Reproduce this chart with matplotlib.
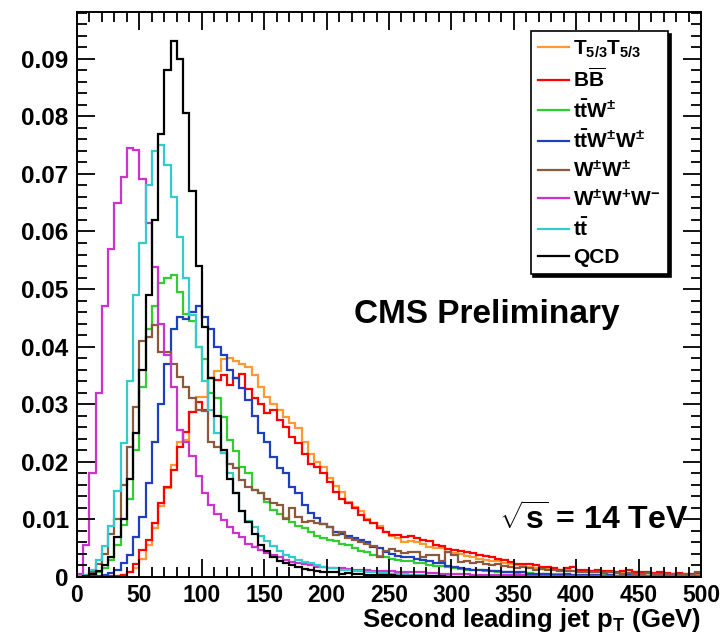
import numpy as np
import matplotlib
matplotlib.use("Agg")
import matplotlib.pyplot as plt
from matplotlib.lines import Line2D
from matplotlib.ticker import MultipleLocator

plt.rcParams['font.family'] = ['Liberation Sans', 'DejaVu Sans']
plt.rcParams['font.weight'] = 'bold'
plt.rcParams['mathtext.fontset'] = 'custom'
plt.rcParams['mathtext.rm'] = 'Liberation Sans:bold'
plt.rcParams['mathtext.it'] = 'Liberation Sans:bold'
plt.rcParams['mathtext.bf'] = 'Liberation Sans:bold'

# 5 GeV bins, 0-500 GeV
edges = np.arange(0, 505, 5)

t53 = [0, 0, 0, 0, 0, 0, 0.0001, 0.0003, 0.0008, 0.0016,
       0.0032, 0.0055, 0.0085, 0.0124, 0.0155, 0.0195, 0.0235, 0.0238, 0.0286, 0.0313,
       0.0313, 0.0345, 0.0358, 0.0379, 0.0380, 0.0375, 0.0370, 0.0365, 0.0350, 0.0330,
       0.0313, 0.0300, 0.0290, 0.0278, 0.0267, 0.0258, 0.0235, 0.0214, 0.0200, 0.0191,
       0.0172, 0.0158, 0.0148, 0.0130, 0.0122, 0.0115, 0.0100, 0.0094, 0.0088, 0.0079,
       0.0072, 0.0068, 0.0061, 0.0063, 0.0061, 0.0058, 0.0052, 0.0050, 0.0050, 0.0044,
       0.0042, 0.0040, 0.0036, 0.0035, 0.0031, 0.0030, 0.0028, 0.0027, 0.0024, 0.0022,
       0.0020, 0.0019, 0.0018, 0.0016, 0.0015, 0.0016, 0.0014, 0.0012, 0.0012, 0.0011,
       0.0010, 0.0010, 0.0009, 0.0010, 0.0008, 0.0008, 0.0009, 0.0007, 0.0007, 0.0008,
       0.0006, 0.0007, 0.0006, 0.0005, 0.0006, 0.0005, 0.0005, 0.0004, 0.0005, 0.0005]

bb = [0, 0, 0, 0, 0, 0.0001, 0.0002, 0.0004, 0.0009, 0.0023,
      0.0047, 0.0064, 0.0093, 0.0128, 0.0157, 0.0185, 0.0226, 0.0252, 0.0287, 0.0304,
      0.0290, 0.0345, 0.0342, 0.0350, 0.0333, 0.0345, 0.0353, 0.0327, 0.0310, 0.0301,
      0.0284, 0.0290, 0.0272, 0.0260, 0.0243, 0.0232, 0.0214, 0.0197, 0.0191, 0.0180,
      0.0165, 0.0148, 0.0136, 0.0128, 0.0119, 0.0108, 0.0099, 0.0093, 0.0085, 0.0079,
      0.0073, 0.0073, 0.0070, 0.0072, 0.0068, 0.0064, 0.0062, 0.0056, 0.0053, 0.0048,
      0.0047, 0.0045, 0.0043, 0.0041, 0.0038, 0.0036, 0.0035, 0.0031, 0.0029, 0.0026,
      0.0023, 0.0023, 0.0022, 0.0020, 0.0018, 0.0018, 0.0015, 0.0013, 0.0016, 0.0017,
      0.0012, 0.0013, 0.0011, 0.0012, 0.0010, 0.0011, 0.0009, 0.0010, 0.0012, 0.0009,
      0.0008, 0.0009, 0.0007, 0.0008, 0.0007, 0.0006, 0.0007, 0.0006, 0.0006, 0.0007]

ttw = [0, 0.0001, 0.0003, 0.0008, 0.0015, 0.0030, 0.0055, 0.0090, 0.0135, 0.0220,
       0.0330, 0.0430, 0.0470, 0.0510, 0.0520, 0.0525, 0.0495, 0.0456, 0.0445, 0.0400,
       0.0378, 0.0320, 0.0310, 0.0278, 0.0238, 0.0218, 0.0191, 0.0180, 0.0151, 0.0145,
       0.0130, 0.0116, 0.0110, 0.0102, 0.0095, 0.0089, 0.0085, 0.0078, 0.0072, 0.0067,
       0.0064, 0.0062, 0.0058, 0.0055, 0.0050, 0.0046, 0.0044, 0.0039, 0.0037, 0.0035,
       0.0032, 0.0030, 0.0028, 0.0027, 0.0025, 0.0024, 0.0020, 0.0019, 0.0019, 0.0018,
       0.0015, 0.0014, 0.0013, 0.0012, 0.0012, 0.0010, 0.0010, 0.0009, 0.0009, 0.0008,
       0.0007, 0.0008, 0.0007, 0.0006, 0.0006, 0.0005, 0.0005, 0.0005, 0.0004, 0.0004,
       0.0004, 0.0003, 0.0004, 0.0003, 0.0003, 0.0003, 0.0002, 0.0003, 0.0002, 0.0002,
       0.0002, 0.0002, 0.0002, 0.0001, 0.0002, 0.0001, 0.0001, 0.0001, 0.0001, 0.0001]

ttww = [0, 0, 0.0001, 0.0002, 0.0004, 0.0007, 0.0012, 0.0024, 0.0038, 0.0069,
        0.0105, 0.0163, 0.0235, 0.0300, 0.0370, 0.0430, 0.0452, 0.0448, 0.0460, 0.0470,
        0.0452, 0.0430, 0.0400, 0.0385, 0.0360, 0.0345, 0.0328, 0.0307, 0.0280, 0.0250,
        0.0235, 0.0209, 0.0190, 0.0180, 0.0157, 0.0145, 0.0125, 0.0111, 0.0102, 0.0092,
        0.0087, 0.0078, 0.0074, 0.0072, 0.0067, 0.0064, 0.0061, 0.0052, 0.0050, 0.0044,
        0.0040, 0.0037, 0.0035, 0.0034, 0.0032, 0.0029, 0.0027, 0.0024, 0.0024, 0.0019,
        0.0018, 0.0016, 0.0014, 0.0013, 0.0012, 0.0012, 0.0011, 0.0010, 0.0009, 0.0009,
        0.0008, 0.0008, 0.0005, 0.0005, 0.0005, 0.0005, 0.0004, 0.0004, 0.0005, 0.0003,
        0.0004, 0.0003, 0.0003, 0.0004, 0.0002, 0.0003, 0.0002, 0.0002, 0.0003, 0.0002,
        0.0002, 0.0001, 0.0002, 0.0002, 0.0001, 0.0001, 0.0002, 0.0001, 0.0001, 0.0001]

ww = [0, 0.0002, 0.0008, 0.0023, 0.0040, 0.0075, 0.0100, 0.0160, 0.0225, 0.0296,
      0.0410, 0.0417, 0.0437, 0.0391, 0.0391, 0.0370, 0.0348, 0.0330, 0.0311, 0.0290,
      0.0289, 0.0235, 0.0226, 0.0215, 0.0197, 0.0190, 0.0168, 0.0157, 0.0151, 0.0145,
      0.0135, 0.0128, 0.0125, 0.0100, 0.0120, 0.0105, 0.0095, 0.0097, 0.0093, 0.0092,
      0.0087, 0.0073, 0.0078, 0.0067, 0.0065, 0.0061, 0.0058, 0.0053, 0.0035, 0.0045,
      0.0048, 0.0045, 0.0041, 0.0043, 0.0043, 0.0035, 0.0038, 0.0038, 0.0027, 0.0044,
      0.0038, 0.0026, 0.0027, 0.0025, 0.0026, 0.0022, 0.0020, 0.0023, 0.0019, 0.0018,
      0.0016, 0.0018, 0.0015, 0.0013, 0.0014, 0.0012, 0.0012, 0.0011, 0.0010, 0.0010,
      0.0009, 0.0009, 0.0008, 0.0009, 0.0007, 0.0008, 0.0007, 0.0006, 0.0007, 0.0006,
      0.0006, 0.0007, 0.0005, 0.0006, 0.0005, 0.0005, 0.0004, 0.0005, 0.0004, 0.0009]

www = [0.0005, 0.0055, 0.0180, 0.0320, 0.0470, 0.0570, 0.0650, 0.0695, 0.0745, 0.0742,
       0.0692, 0.0615, 0.0538, 0.0440, 0.0385, 0.0330, 0.0255, 0.0235, 0.0210, 0.0175,
       0.0145, 0.0125, 0.0110, 0.0099, 0.0087, 0.0076, 0.0070, 0.0058, 0.0052, 0.0047,
       0.0041, 0.0038, 0.0035, 0.0030, 0.0026, 0.0024, 0.0022, 0.0020, 0.0018, 0.0017,
       0.0016, 0.0016, 0.0015, 0.0014, 0.0013, 0.0013, 0.0012, 0.0011, 0.0011, 0.0010,
       0.0010, 0.0009, 0.0009, 0.0008, 0.0008, 0.0008, 0.0007, 0.0007, 0.0006, 0.0006,
       0.0005, 0.0005, 0.0005, 0.0004, 0.0004, 0.0004, 0.0004, 0.0003, 0.0003, 0.0003,
       0.0003, 0.0003, 0.0002, 0.0002, 0.0002, 0.0002, 0.0002, 0.0002, 0.0001, 0.0001,
       0.0001, 0.0001, 0.0001, 0.0001, 0.0001, 0.0001, 0.0001, 0.0001, 0.0001, 0.0001,
       0.0001, 0.0001, 0.0001, 0.0001, 0.0001, 0.0001, 0.0001, 0.0001, 0.0001, 0.0001]

tt = [0, 0.0003, 0.0012, 0.0030, 0.0053, 0.0088, 0.0150, 0.0232, 0.0340, 0.0490,
      0.0580, 0.0680, 0.0740, 0.0750, 0.0715, 0.0660, 0.0590, 0.0520, 0.0455, 0.0400,
      0.0340, 0.0290, 0.0250, 0.0215, 0.0180, 0.0145, 0.0115, 0.0098, 0.0087, 0.0072,
      0.0062, 0.0053, 0.0045, 0.0039, 0.0035, 0.0030, 0.0026, 0.0024, 0.0021, 0.0018,
      0.0016, 0.0015, 0.0013, 0.0012, 0.0011, 0.0010, 0.0009, 0.0008, 0.0007, 0.0007,
      0.0006, 0.0005, 0.0005, 0.0004, 0.0004, 0.0003, 0.0002, 0.0001, 0.0001, 0.0001,
      0, 0, 0, 0, 0, 0, 0, 0, 0, 0,
      0, 0, 0, 0, 0, 0, 0, 0, 0, 0,
      0, 0, 0, 0, 0, 0, 0, 0, 0, 0,
      0, 0, 0, 0, 0, 0, 0, 0, 0, 0]

qcd = [0, 0.0002, 0.0005, 0.0010, 0.0020, 0.0035, 0.0070, 0.0100, 0.0170, 0.0250,
       0.0360, 0.0490, 0.0620, 0.0770, 0.0880, 0.0930, 0.0900, 0.0805, 0.0670, 0.0540,
       0.0435, 0.0345, 0.0280, 0.0220, 0.0170, 0.0145, 0.0115, 0.0095, 0.0075, 0.0055,
       0.0045, 0.0035, 0.0028, 0.0024, 0.0020, 0.0017, 0.0014, 0.0012, 0.0010, 0.0009,
       0.0008, 0.0008, 0.0006, 0.0007, 0.0005, 0.0005, 0.0004, 0.0004, 0.0003, 0.0003,
       0.0003, 0.0002, 0.0002, 0.0001, 0.0002, 0.0001, 0.0001, 0.0001, 0.0001, 0,
       0, 0, 0, 0, 0, 0, 0, 0, 0, 0,
       0, 0, 0, 0, 0, 0, 0, 0, 0, 0,
       0, 0, 0, 0, 0, 0, 0, 0, 0, 0,
       0, 0, 0, 0, 0, 0, 0, 0, 0, 0]

labels = [r'T$_{5/3}$T$_{5/3}$', r'B$\overline{\mathrm{B}}$', r't$\bar{\mathrm{t}}$W$^{\pm}$',
          r't$\bar{\mathrm{t}}$W$^{\pm}$W$^{\pm}$', r'W$^{\pm}$W$^{\pm}$',
          r'W$^{\pm}$W$^{+}$W$^{-}$', r't$\bar{\mathrm{t}}$', 'QCD']
colors = ['#ff9933', '#ff0000', '#33cc33', '#1f3fbf', '#8b5a3c', '#cc33cc', '#33cccc', '#000000']
series = [t53, bb, ttw, ttww, ww, www, tt, qcd]

fig = plt.figure(figsize=(7.25, 6.37), dpi=100)
ax = fig.add_axes([0.1062, 0.0942, 0.8607, 0.8868])

for vals, c in zip(series, colors):
    ax.stairs(vals, edges, color=c, lw=1.6)

ax.set_xlim(0, 500)
ax.set_ylim(0, 0.0981)
ax.xaxis.set_major_locator(MultipleLocator(50))
ax.xaxis.set_minor_locator(MultipleLocator(10))
ax.yaxis.set_major_locator(MultipleLocator(0.01))
ax.yaxis.set_minor_locator(MultipleLocator(0.002))
ax.yaxis.set_major_formatter(lambda v, p: '0' if v == 0 else f'{v:.2f}')
ax.tick_params(which='both', direction='in', top=True, right=True, width=1.3)
ax.tick_params(which='major', length=13)
ax.tick_params(which='minor', length=7)
ax.tick_params(axis='x', labelsize=16.5, pad=5)
ax.tick_params(axis='y', labelsize=17.5, pad=6)
for s in ax.spines.values():
    s.set_linewidth(1.4)

ax.set_xlabel(r'Second leading jet p$_{\mathrm{T}}$ (GeV)', loc='right', fontsize=18.5,
              fontweight='bold', labelpad=-1)

handles = [Line2D([], [], color=c, lw=1.6) for c in colors]
leg = ax.legend(handles, labels, loc='upper right', bbox_to_anchor=(0.947, 0.966),
                fontsize=15, frameon=True, fancybox=False, edgecolor='black',
                shadow={'color': 'black', 'alpha': 1.0}, handlelength=1.5,
                handletextpad=0.2, labelspacing=0.38, borderpad=0.35, borderaxespad=0)
leg.get_frame().set_linewidth(1.2)

ax.text(0.657, 0.464, 'CMS Preliminary', transform=ax.transAxes, ha='center', va='center',
        fontsize=24, fontweight='bold')
ax.text(0.828, 0.10, r'$\sqrt{\mathrm{s}}$ = 14 TeV', transform=ax.transAxes, ha='center',
        va='center', fontsize=23, fontweight='bold')

fig.savefig('out.png', dpi=100)
